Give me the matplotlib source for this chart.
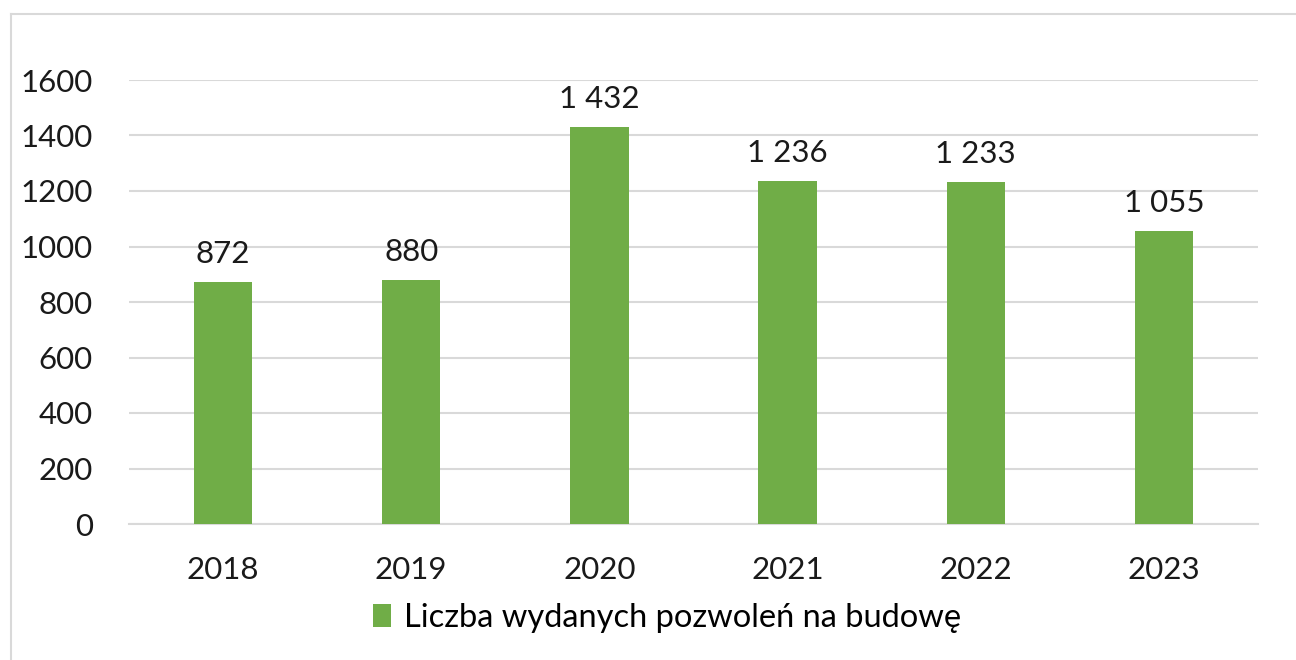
import matplotlib.pyplot as plt
from matplotlib.lines import Line2D

plt.rcParams['font.family'] = ['Lato', 'DejaVu Sans']

# data
years = ['2018', '2019', '2020', '2021', '2022', '2023']
permits = [872, 880, 1432, 1236, 1233, 1055]
series_name = 'Liczba wydanych pozwoleń na budowę'
yticks = [0, 200, 400, 600, 800, 1000, 1200, 1400, 1600]

green = '#70AD47'
grid_col = '#D9D9D9'

fig = plt.figure(figsize=(12.96, 6.6), dpi=100)
ax = fig.add_axes([129 / 1296, 1 - 524 / 660, (1258 - 129) / 1296, (524 - 80) / 660])

x = range(len(years))
bars = ax.bar(x, permits, width=0.31, color=green, zorder=3, label=series_name)

for b, v in zip(bars, permits):
    txt = f'{v:,}'.replace(',', ' ')
    ax.annotate(txt, (b.get_x() + b.get_width() / 2, v), xytext=(0, 10),
                textcoords='offset points', ha='center', va='bottom',
                fontsize=22.5, color='#1a1a1a')

ax.set_xlim(-0.5, len(years) - 0.5)
ax.set_ylim(0, 1600)
ax.set_yticks(yticks)
ax.set_yticklabels([str(t) for t in yticks])
ax.set_xticks(list(x))
ax.set_xticklabels(years)
ax.tick_params(axis='both', length=0, labelsize=22.5, colors='#1a1a1a')
ax.tick_params(axis='y', pad=26)
ax.tick_params(axis='x', pad=23)
ax.yaxis.grid(True, color=grid_col, linewidth=1.5, zorder=0)
for s in ['top', 'right', 'left']:
    ax.spines[s].set_visible(False)
ax.spines['bottom'].set_color(grid_col)
ax.spines['bottom'].set_linewidth(1.5)

fig.legend(handles=[bars], labels=[series_name], loc='center',
           bbox_to_anchor=(667 / 1296, 1 - 618 / 660), frameon=False, fontsize=23.5,
           handlelength=0.55, handleheight=0.7, handletextpad=0.4)

# outer frame (top and left edges visible)
fig.add_artist(Line2D([11 / 1296, 1.0], [1 - 14 / 660, 1 - 14 / 660],
                      transform=fig.transFigure, color='#D9D9D9', linewidth=1.5))
fig.add_artist(Line2D([11 / 1296, 11 / 1296], [0, 1 - 14 / 660],
                      transform=fig.transFigure, color='#D9D9D9', linewidth=1.5))

fig.savefig('out.png', dpi=100)
